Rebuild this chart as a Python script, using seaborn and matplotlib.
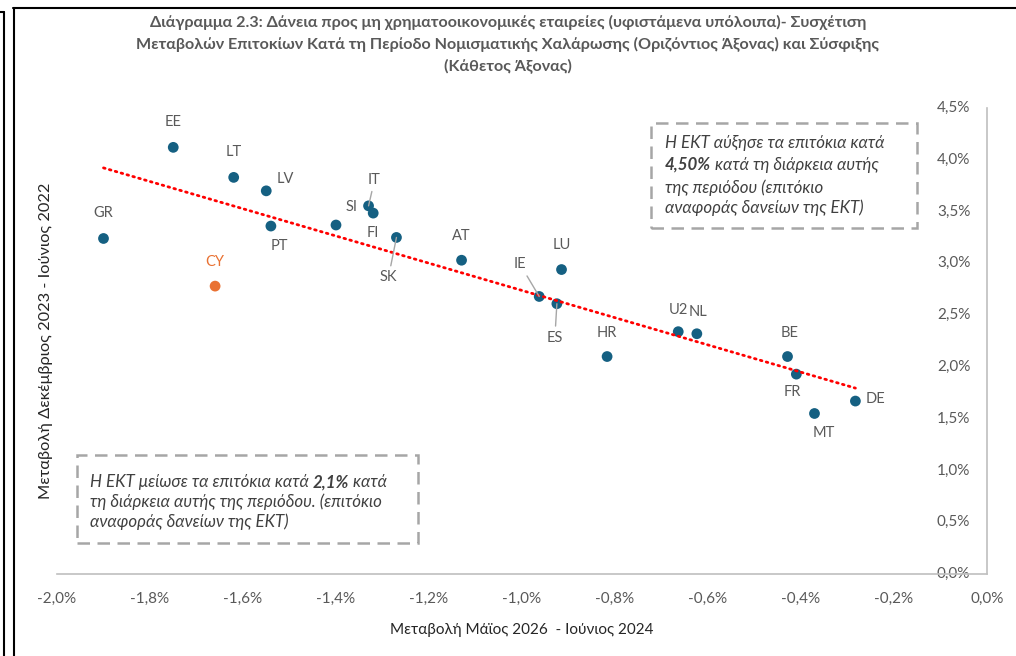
import matplotlib
matplotlib.use("Agg")
import matplotlib.pyplot as plt
import numpy as np
import pandas as pd
import seaborn as sns
from matplotlib.lines import Line2D
from matplotlib.patches import Rectangle
from matplotlib.ticker import FuncFormatter, MultipleLocator

# Data (values in %)
countries = ['GR', 'EE', 'LT', 'LV', 'PT', 'SI', 'IT', 'FI', 'SK', 'AT', 'CY',
             'LU', 'IE', 'ES', 'HR', 'U2', 'NL', 'BE', 'FR', 'MT', 'DE']
easing_change = [-1.90, -1.75, -1.62, -1.55, -1.54, -1.40, -1.33, -1.32, -1.27, -1.13, -1.66,
                 -0.915, -0.963, -0.925, -0.817, -0.664, -0.624, -0.429, -0.410, -0.371, -0.283]
tightening_change = [3.24, 4.12, 3.83, 3.70, 3.36, 3.37, 3.555, 3.485, 3.25, 3.03, 2.78,
                     2.94, 2.68, 2.61, 2.10, 2.34, 2.32, 2.10, 1.93, 1.55, 1.67]
highlight = ['CY']

title = ("Διάγραμμα 2.3: Δάνεια προς μη χρηματοοικονομικές εταιρείες (υφιστάμενα υπόλοιπα)- Συσχέτιση\n"
         "Μεταβολών Επιτοκίων Κατά τη Περίοδο Νομισματικής Χαλάρωσης (Οριζόντιος Άξονας) και Σύσφιξης\n"
         "(Κάθετος Άξονας)")
xlabel = "Μεταβολή Μάϊος 2026  - Ιούνιος 2024"
ylabel = "Μεταβολή Δεκέμβριος 2023 - Ιούνιος 2022"

# label offsets in pixels (dx, dy up) and whether a leader line is drawn
label_pos = {
    'GR': (0, 25, False), 'EE': (0, 25, False), 'LT': (0, 25, False), 'LV': (19, 12, False),
    'PT': (8, -20, False), 'SI': (16, 18, False), 'IT': (6, 26, True), 'FI': (0, -20, False),
    'SK': (-8, -40, True), 'AT': (0, 24, False), 'CY': (0, 24, False), 'LU': (0, 25, False),
    'IE': (-19, 32, True), 'ES': (-2, -34, True), 'HR': (0, 24, False), 'U2': (0, 22, False),
    'NL': (1, 22, False), 'BE': (2, 24, False), 'FR': (-4, -18, False), 'MT': (9, -20, False),
    'DE': (20, 2, False),
}

df = pd.DataFrame({'country': countries, 'x': easing_change, 'y': tightening_change})
df['group'] = np.where(df['country'].isin(highlight), 'cy', 'other')

BLUE = '#156082'
ORANGE = '#E97132'
GREY_TXT = '#595959'

sns.set_theme(style='white')
plt.rcParams['font.family'] = ['Lato', 'DejaVu Sans']

fig = plt.figure(figsize=(10.16, 6.56), dpi=100)
ax = fig.add_axes([57 / 1016, 1 - 574 / 656, 930 / 1016, 466 / 656])

sns.scatterplot(data=df, x='x', y='y', hue='group', palette={'other': BLUE, 'cy': ORANGE},
                s=60, linewidth=0, legend=False, ax=ax, zorder=3)
sns.regplot(data=df, x='x', y='y', scatter=False, ci=None, truncate=True, ax=ax,
            line_kws=dict(color='#FF0000', lw=2.0, ls=(0, (0.6, 1.6)), dash_capstyle='round', zorder=4))

ax.set_xlim(-2.0, 0.0)
ax.set_ylim(0, 4.5)
ax.xaxis.set_major_locator(MultipleLocator(0.2))
ax.yaxis.set_major_locator(MultipleLocator(0.5))
fmt = FuncFormatter(lambda v, p: f"{v:.1f}%".replace('.', ',').replace('-0,0', '0,0'))
ax.xaxis.set_major_formatter(fmt)
ax.yaxis.set_major_formatter(fmt)

sns.despine(ax=ax, left=True, top=True, right=False, bottom=False)
for side in ['right', 'bottom']:
    ax.spines[side].set_color('#BFBFBF')
    ax.spines[side].set_linewidth(1.2)
ax.yaxis.tick_right()
ax.tick_params(axis='x', length=0, pad=13, labelsize=11, labelcolor=GREY_TXT)
ax.tick_params(axis='y', length=0, pad=-12, labelsize=11, labelcolor=GREY_TXT)
for lab in ax.get_yticklabels():
    lab.set_horizontalalignment('right')
    lab.set_verticalalignment('center')

ax.set_xlabel(xlabel, fontsize=11, color='#262626', labelpad=12)
ax.yaxis.set_label_position('left')
ax.set_ylabel(ylabel, fontsize=11.8, color='#262626', labelpad=3)

# point labels
for _, row in df.iterrows():
    dx, dy, leader = label_pos[row['country']]
    col = ORANGE if row['group'] == 'cy' else GREY_TXT
    arrow = dict(arrowstyle='-', color='#A6A6A6', lw=1.0, shrinkA=1, shrinkB=0) if leader else None
    ax.annotate(row['country'], xy=(row['x'], row['y']), xytext=(dx, dy),
                textcoords='offset pixels', ha='center', va='center',
                fontsize=10.5, color=col, arrowprops=arrow, zorder=5)

fig.text(0.5, 1 - 44 / 656, title, ha='center', va='center', fontsize=11.6,
         fontweight='bold', color=GREY_TXT, linespacing=1.55)


def note_line(parts, x, y, size=12.2):
    t = ax.text(x, y, parts[0][0], transform=ax.transAxes, ha='left', va='center',
                fontsize=size, style='italic', fontweight=parts[0][1], color='#404040')
    for s, w in parts[1:]:
        t = ax.annotate(s, xy=(1, 0), xycoords=t, ha='left', va='bottom',
                        fontsize=size, style='italic', fontweight=w, color='#404040')


box_style = dict(fill=False, ec='#A6A6A6', lw=1.8, ls=(0, (5, 3)), transform=ax.transAxes, clip_on=False)
ax.add_patch(Rectangle((0.6387, 0.7425), 0.286, 0.2253, **box_style))
ax.add_patch(Rectangle((0.0215, 0.0665), 0.3665, 0.1889, **box_style))

note_line([("Η ΕΚΤ αύξησε τα επιτόκια κατά", 'normal')], 0.6538, 0.925)
note_line([("4,50%", 'bold'), (" κατά τη διάρκεια αυτής", 'normal')], 0.6538, 0.878)
note_line([("της περιόδου (επιτόκιο", 'normal')], 0.6538, 0.830)
note_line([("αναφοράς δανείων της ΕΚΤ)", 'normal')], 0.6538, 0.785)

note_line([("Η ΕΚΤ μείωσε τα επιτόκια κατά ", 'normal'), ("2,1%", 'bold'), (" κατά", 'normal')], 0.0355, 0.197)
note_line([("τη διάρκεια αυτής της περιόδου. (επιτόκιο", 'normal')], 0.0355, 0.155)
note_line([("αναφοράς δανείων της ΕΚΤ)", 'normal')], 0.0355, 0.113)

# outer frame lines
W, H = 1016, 656
frame = [((13.5, 13.5), (8, 656)), ((13, 1016), (8, 8)), ((4, 4), (12, 656)), ((0, 4), (12, 12))]
for xs, ys in frame:
    fig.add_artist(Line2D([v / W for v in xs], [1 - v / H for v in ys], color='black', lw=1.5,
                          transform=fig.transFigure))

fig.savefig('out.png', dpi=100)
